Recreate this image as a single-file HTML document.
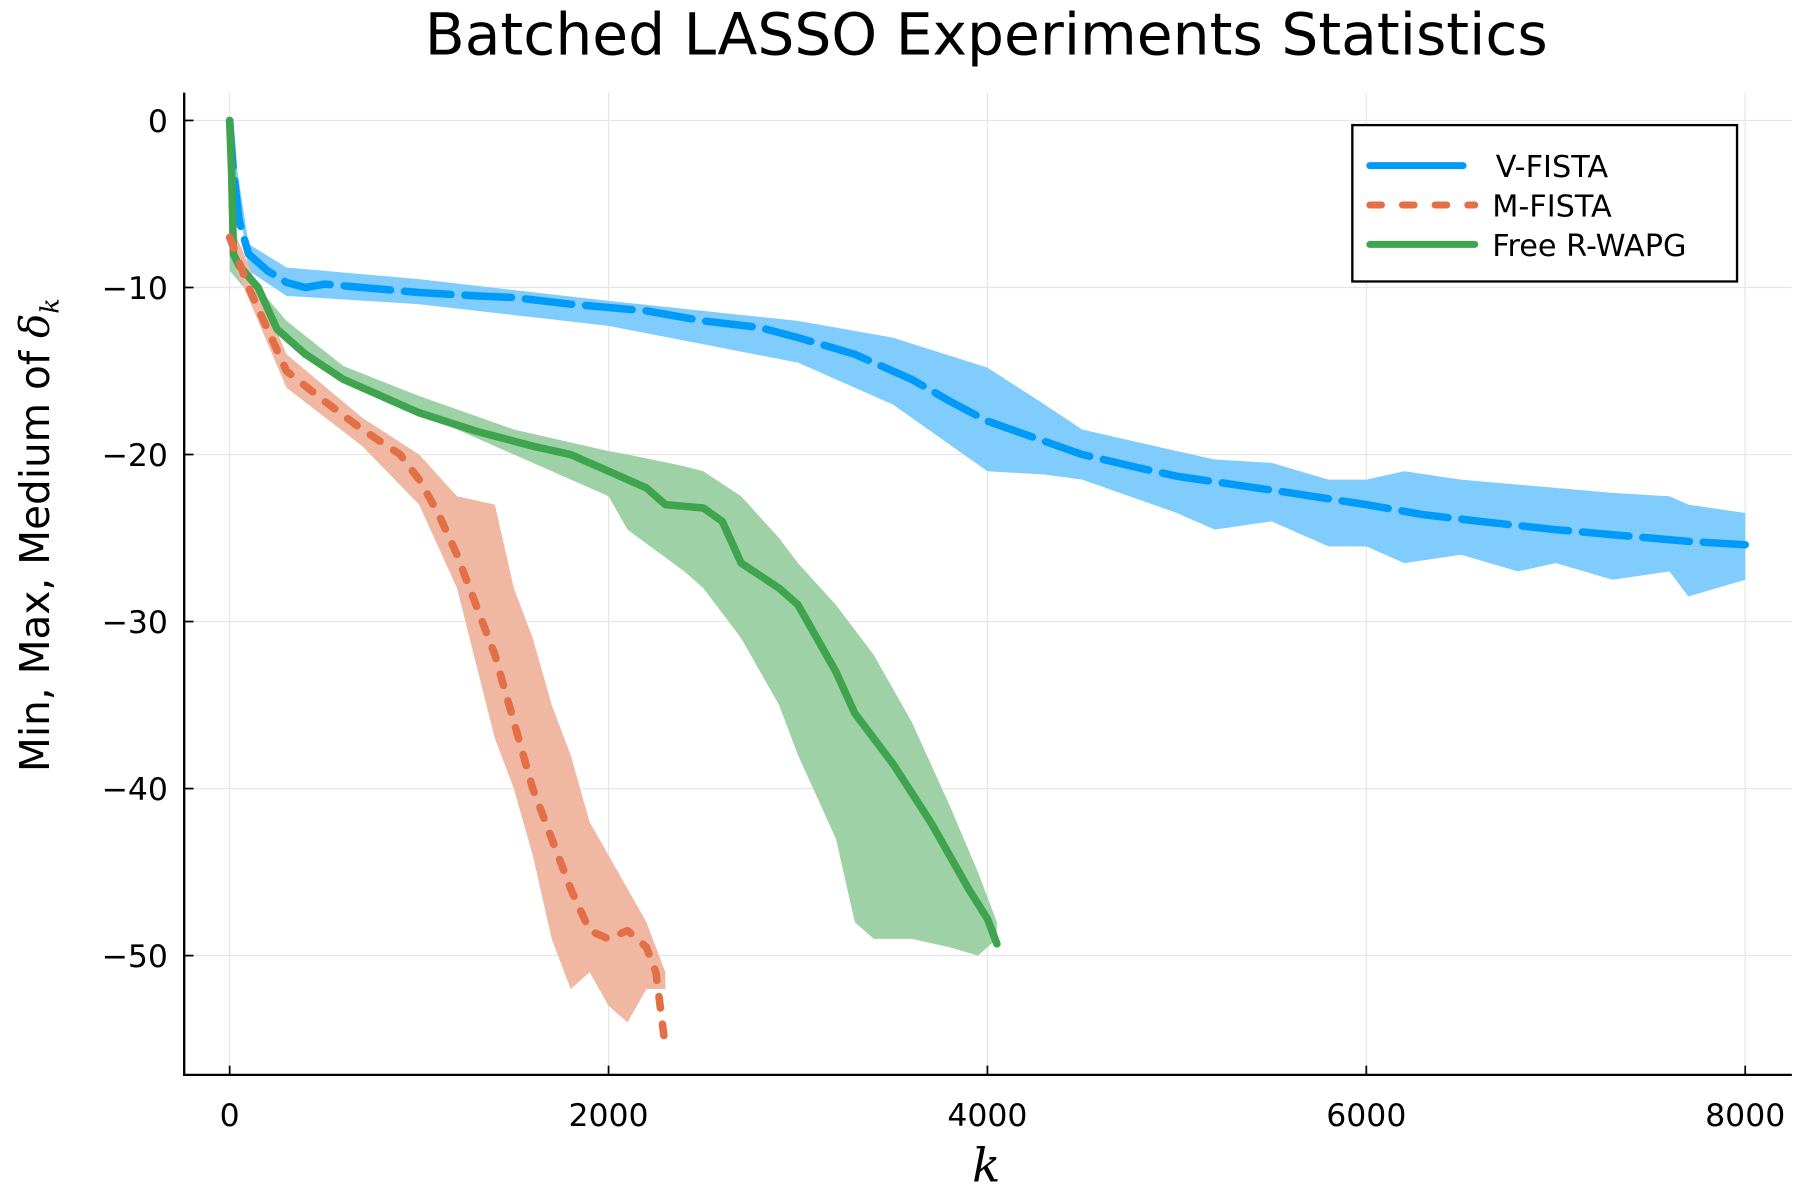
<!DOCTYPE html>
<html><head><meta charset="utf-8"><style>
html,body{margin:0;padding:0;background:#fff;}
svg{display:block;font-family:"DejaVu Sans","Liberation Sans",sans-serif;}
</style></head><body>
<svg id="chart" width="1800" height="1200" viewBox="0 0 1544 1036" preserveAspectRatio="none" xmlns="http://www.w3.org/2000/svg">
<rect x="0" y="0" width="1544" height="1036" fill="#fff"/>
<text x="846" y="47" font-size="50" text-anchor="middle">Batched LASSO Experiments Statistics</text>
<g id="grid"></g>
<g id="bands"></g>
<g id="lines"></g>
<g id="axes"></g>
<text x="846" y="1020" font-size="40" font-style="italic" font-family="DejaVu Serif,serif" text-anchor="middle">k</text>
<text transform="translate(42,462) rotate(-90)" font-size="35" text-anchor="middle">Min, Max, Medium of <tspan font-family="DejaVu Serif,serif" font-style="italic">δ</tspan><tspan font-family="DejaVu Serif,serif" font-style="italic" font-size="22" dy="8">k</tspan></text>
<g>
<rect x="1160" y="108" width="330" height="135" fill="#fff" stroke="#000" stroke-width="2"/>
<g><line x1="1175" y1="143" x2="1255" y2="143" stroke="#009af9" stroke-width="6" stroke-linecap="round"/><text x="1283" y="153" font-size="26">V-FISTA</text></g>
<g><line x1="1175" y1="177" x2="1265" y2="177" stroke="#e26f46" stroke-width="6" stroke-linecap="round" stroke-dasharray="10,18"/><text x="1280" y="187" font-size="26">M-FISTA</text></g>
<g><line x1="1175" y1="211" x2="1265" y2="211" stroke="#3ea44e" stroke-width="6" stroke-linecap="round"/><text x="1280" y="221" font-size="26">Free R-WAPG</text></g>
</g>
</svg>
<script>
const xTicks=[0,2000,4000,6000,8000];
const yTicks=[0,-10,-20,-30,-40,-50];
const yTickLabels=["0","−10","−20","−30","−40","−50"];
const vK=[0,20,50,100,200,300,400,500,700,1000,1300,1500,1800,2000,2200,2500,2800,3000,3300,3600,3800,4000,4300,4500,4800,5000,5300,5600,6000,6300,6600,7000,7300,7700,8000];
const vMed=[0,-3,-6,-8,-9,-9.7,-10,-9.8,-10,-10.3,-10.5,-10.6,-11,-11.2,-11.4,-12,-12.4,-13,-14,-15.5,-16.8,-18,-19.2,-20,-20.8,-21.3,-21.8,-22.3,-23,-23.6,-24,-24.5,-24.8,-25.2,-25.4];
const vBK=[0,100,300,1000,2000,3000,3500,4000,4300,4500,5000,5200,5500,5800,6000,6200,6500,6800,7000,7300,7600,7700,8000];
const vUp=[0,-7.4,-8.8,-9.5,-10.8,-12,-13,-14.8,-17,-18.5,-19.8,-20.3,-20.5,-21.5,-21.5,-21,-21.5,-21.8,-22,-22.3,-22.5,-23,-23.5];
const vLo=[-1,-9,-10.5,-11,-12.3,-14.5,-17,-21,-21.2,-21.5,-23.5,-24.5,-24,-25.5,-25.5,-26.5,-26,-27,-26.5,-27.5,-27,-28.5,-27.5];
const mK=[0,100,200,300,500,700,900,1000,1100,1200,1300,1400,1500,1600,1700,1800,1900,2000,2100,2200,2250,2300];
const mMed=[-7,-10,-12.5,-15,-16.8,-18.5,-20,-21.5,-23.5,-26,-29,-32,-36,-40,-43,-46,-48.5,-49,-48.5,-49.5,-51,-55.5];
const mBK=[0,300,700,1000,1200,1400,1500,1600,1700,1800,1900,2000,2100,2200,2300];
const mUp=[-6,-14,-17.8,-20,-22.5,-23,-28,-31,-35,-38,-42,-44,-46,-48,-51];
const mLo=[-8,-16,-19.5,-23,-28,-37,-40,-44,-49,-52,-51,-53,-54,-52,-52];
const gK=[0,10,20,50,150,250,400,600,800,1000,1300,1600,1800,2000,2200,2300,2500,2600,2700,2900,3000,3100,3200,3300,3500,3700,3800,3900,4000,4050];
const gMed=[0,-3,-8,-8.7,-10,-12.5,-14,-15.5,-16.5,-17.5,-18.6,-19.5,-20,-21,-22,-23,-23.2,-24,-26.5,-28,-29,-31,-33,-35.5,-38.5,-42,-44,-46,-47.8,-49.3];
const gBK=[0,300,600,1000,1500,2000,2100,2400,2500,2700,2900,3000,3200,3300,3400,3500,3600,3800,3950,4050];
const gUp=[-8,-12,-14.7,-16.5,-18.5,-19.8,-20,-20.7,-21,-22.5,-25,-26.5,-29,-30.5,-32,-34,-36,-41,-45,-48];
const gLo=[-9,-13,-15.5,-17.5,-20,-22.5,-24.5,-27,-28,-31,-35,-38,-43,-48,-49,-49,-49,-49.5,-50,-49];

const PL=158,PR=1537,PT=80,PB=928;
const xs=k=>197+(k-0)*(1497-197)/8000;
const ys=v=>104+(0-v)*(825-104)/50;
const NS="http://www.w3.org/2000/svg";
function mk(tag,parent,attrs){const e=document.createElementNS(NS,tag);for(const a in attrs)e.setAttribute(a,attrs[a]);document.getElementById(parent).appendChild(e);return e;}
xTicks.forEach((t,i)=>{
 const g=mk('line','grid',{x1:xs(t),x2:xs(t),y1:PT,y2:PB,stroke:'#e5e5e5','stroke-width':1});
 
 
 const tk=mk('line','axes',{x1:xs(t),x2:xs(t),y1:PB,y2:PB-8,stroke:'#000','stroke-width':1.5});
 
 
 const l=mk('text','axes',{x:xs(t),y:972,'font-size':27,'text-anchor':'middle'});l.textContent=String(t);
 
 
});
yTicks.forEach((t,i)=>{
 const g=mk('line','grid',{x1:PL,x2:PR,y1:ys(t),y2:ys(t),stroke:'#e5e5e5','stroke-width':1});
 
 
 const tk=mk('line','axes',{x1:PL,x2:PL+8,y1:ys(t),y2:ys(t),stroke:'#000','stroke-width':1.5});
 
 
 const l=mk('text','axes',{x:144,y:ys(t)+10,'font-size':27,'text-anchor':'end'});l.textContent=yTickLabels[i];
 
 
});
const ax=mk('path','axes',{d:`M${PL},${PT}V${PB}H${PR}`,fill:'none',stroke:'#000','stroke-width':2});


function band(K,U,L,color,name){
 let d='M'+K.map((k,i)=>xs(k)+','+ys(U[i])).join('L');
 for(let i=K.length-1;i>=0;i--)d+='L'+xs(K[i])+','+ys(L[i]);
 const p=mk('path','bands',{d:d+'Z',fill:color,stroke:'none'});
 
 
}
function line(K,V,color,dash,name){
 const p=mk('path','lines',{d:'M'+K.map((k,i)=>xs(k)+','+ys(V[i])).join('L'),fill:'none',stroke:color,'stroke-width':6.5,'stroke-linecap':'round','stroke-linejoin':'round'});
 if(dash)p.setAttribute('stroke-dasharray',dash);
 
 
}
band(vBK,vUp,vLo,'#80ccfc','v-fista-band');
band(gBK,gUp,gLo,'#9fd1a6','free-r-wapg-band');
band(mBK,mUp,mLo,'#f0b7a2','m-fista-band');
line(vK,vMed,'#009af9','40,12','v-fista-median');
line(gK,gMed,'#3ea44e',null,'free-r-wapg-median');
line(mK,mMed,'#e26f46','10,14','m-fista-median');
</script>
</body></html>
